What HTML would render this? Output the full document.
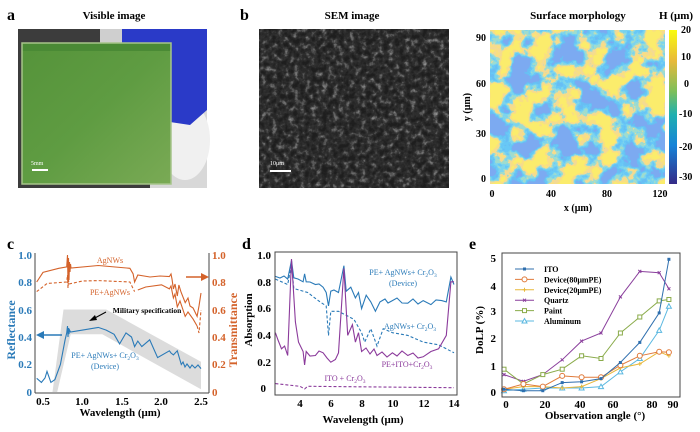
<!DOCTYPE html>
<html><head><meta charset="utf-8"><style>
html,body{margin:0;padding:0;background:#fff;}
svg{display:block;font-family:"Liberation Serif",serif;font-weight:bold;}
</style></head><body>
<svg width="700" height="432" viewBox="0 0 700 432" xmlns="http://www.w3.org/2000/svg">
<defs>
<filter id="semf" x="0" y="0" width="100%" height="100%">
<feTurbulence type="fractalNoise" baseFrequency="0.18" numOctaves="3" seed="4"/>
<feColorMatrix type="matrix" values="0 0 0 0 0  0 0 0 0 0  0 0 0 0 0  1.2 0 0 0 -0.35"/>
<feComponentTransfer><feFuncA type="table" tableValues="0 0.1 0.5 0.9"/></feComponentTransfer>
<feColorMatrix type="matrix" values="0 0 0 0 0.75 0 0 0 0 0.75 0 0 0 0 0.75 0 0 0 1 0"/>
</filter>
<filter id="mapf" x="0" y="0" width="100%" height="100%">
<feTurbulence type="fractalNoise" baseFrequency="0.045" numOctaves="4" seed="7"/>
<feColorMatrix type="matrix" values="3.5 0 0 0 -1.25 3.5 0 0 0 -1.25 3.5 0 0 0 -1.25 0 0 0 0 1"/>
<feComponentTransfer>
<feFuncR type="discrete" tableValues="0.2 0.14 0.14 0.2 0.35 0.9 0.94 0.97"/>
<feFuncG type="discrete" tableValues="0.4 0.52 0.58 0.66 0.72 0.7 0.74 0.84"/>
<feFuncB type="discrete" tableValues="0.88 0.9 0.92 0.85 0.62 0.3 0.22 0.15"/>
<feFuncA type="table" tableValues="1 1"/>
</feComponentTransfer>
</filter>
<linearGradient id="cb" x1="0" y1="0" x2="0" y2="1">
<stop offset="0" stop-color="#f9fb0e"/><stop offset="0.2" stop-color="#e8b93a"/>
<stop offset="0.4" stop-color="#7cbf5a"/><stop offset="0.55" stop-color="#1fb0b0"/>
<stop offset="0.75" stop-color="#1683d8"/><stop offset="1" stop-color="#352a87"/>
</linearGradient>
<linearGradient id="grn" x1="0" y1="0" x2="1" y2="1">
<stop offset="0" stop-color="#55933a"/><stop offset="0.5" stop-color="#5f9c42"/><stop offset="1" stop-color="#7aaa55"/>
</linearGradient>
<marker id="mIT" markerWidth="6" markerHeight="6" refX="3" refY="3" markerUnits="userSpaceOnUse"><rect x="1.5" y="1.5" width="3" height="3" fill="#2f6fae"/></marker>
<marker id="mD8" markerWidth="8" markerHeight="8" refX="4" refY="4" markerUnits="userSpaceOnUse"><circle cx="4" cy="4" r="2.5" fill="#fff" stroke="#e07a3a"/></marker>
<marker id="mD2" markerWidth="6" markerHeight="6" refX="3" refY="3" markerUnits="userSpaceOnUse"><path d="M1 3h4M3 1v4" stroke="#e8b83a"/></marker>
<marker id="mQ" markerWidth="6" markerHeight="6" refX="3" refY="3" markerUnits="userSpaceOnUse"><path d="M1.5 1.5l3 3M4.5 1.5l-3 3" stroke="#8a3f9c"/></marker>
<marker id="mP" markerWidth="8" markerHeight="8" refX="4" refY="4" markerUnits="userSpaceOnUse"><rect x="2" y="2" width="4" height="4" fill="#fff" stroke="#8aab4a"/></marker>
<marker id="mA" markerWidth="8" markerHeight="8" refX="4" refY="4" markerUnits="userSpaceOnUse"><path d="M4 1.5L6.5 6H1.5Z" fill="#fff" stroke="#5bb8e0"/></marker>
</defs>

<text x="7" y="20" font-size="16">a</text>
<text x="114" y="19" font-size="11" text-anchor="middle">Visible image</text>
<text x="240" y="20" font-size="16">b</text>
<text x="352" y="19" font-size="11" text-anchor="middle">SEM image</text>
<text x="578" y="19" font-size="11" text-anchor="middle">Surface morphology</text>
<text x="676" y="19" font-size="11" text-anchor="middle">H (μm)</text>

<rect x="18" y="29" width="189" height="159" fill="#3c3c3c"/>
<rect x="150" y="95" width="57" height="93" fill="#d8d8d8"/>
<ellipse cx="185" cy="140" rx="25" ry="40" fill="#f0f0f0"/>
<path d="M121 29 L207 29 L207 110 L190 125 L170 122 L165 90 L140 70 L121 55 Z" fill="#2a3ac8"/>
<rect x="100" y="29" width="22" height="16" fill="#cfcfcf"/>
<rect x="22" y="43" width="149" height="141" fill="url(#grn)"/>
<rect x="22" y="43" width="149" height="8" fill="#4a8a35"/>
<rect x="22" y="43" width="149" height="141" fill="none" stroke="#a6c48a" stroke-width="1.5"/>
<text x="31" y="165" font-size="6" fill="#fff" font-weight="normal">5mm</text>
<rect x="32" y="169" width="16" height="2" fill="#fff"/>

<rect x="259" y="29" width="190" height="159" fill="#1e1e1e"/>
<rect x="259" y="29" width="190" height="159" filter="url(#semf)"/>
<text x="270" y="165" font-size="6" fill="#fff" font-weight="normal">10μm</text>
<rect x="270" y="170" width="21" height="2" fill="#fff"/>

<rect x="490" y="30" width="175" height="154" filter="url(#mapf)"/>
<rect x="669" y="30" width="8" height="154" fill="url(#cb)"/>
<g font-size="10" text-anchor="end">
<text x="486" y="41">90</text><text x="486" y="87">60</text><text x="486" y="137">30</text><text x="486" y="182">0</text>
</g>
<g font-size="10" text-anchor="middle">
<text x="492" y="197">0</text><text x="551" y="197">40</text><text x="607" y="197">80</text><text x="660" y="197">120</text>
</g>
<text x="578" y="211" font-size="10" text-anchor="middle">x (μm)</text>
<text transform="translate(470,107) rotate(-90)" font-size="10" text-anchor="middle">y (μm)</text>
<g font-size="10">
<text x="681" y="33">20</text><text x="681" y="60">10</text><text x="684" y="87">0</text><text x="679" y="117">-10</text><text x="679" y="150">-20</text><text x="679" y="180">-30</text>
</g>

<text x="7" y="249" font-size="16">c</text>
<text x="242" y="249" font-size="16">d</text>
<text x="469" y="249" font-size="16">e</text>

<polygon points="52.5,392 63.5,309.5 106.2,309.5 201,361.8 201,389.3 102.3,334.3 70.7,334.3 57.2,392" fill="#dcdcdc"/>
<g fill="none" stroke-width="1.1">
<path stroke="#d4622a" d="M36.7 282 L43 272.4 L58.8 268.3 L66.7 266.9 L67.5 255 L68 283 L68.5 258 L69 280 L69.5 262 L70 272 L70.5 264 L71 268 L98.3 265.5 L129.9 268.3 L133.1 273.8 L134.6 282 L137.8 275 L150 277 L160 276 L169.4 276.5 L171 274 L172 279 L173.4 289 L175 284 L177.3 296 L178.9 285 L181 292 L185.2 302.6 L188 298 L190 306 L193.1 308 L195 312 L197.1 316.4 L199 306 L201 293"/>
<path stroke="#d4622a" stroke-dasharray="3,2" d="M36.7 291.6 L47 283.5 L66.7 282 L67.5 275 L68 288 L68.5 280 L69 284 L82.5 281 L98.3 280.6 L129.9 282 L134.6 291.6"/>
<path stroke="#d4622a" d="M137.8 290 L145.7 287 L161.5 284.8 L169.4 288.9 L171 286 L173.4 298 L175 294 L177.3 306.8 L180 301 L185.2 316.4 L188 312 L193.1 319.1 L197.1 326"/>
<path stroke="#d4622a" stroke-dasharray="3,2" d="M197.1 326 L199 333 L201 310"/>
<path stroke="#2a7ab8" d="M36.7 378.3 L41.4 382.4 L45 378 L47 371.4 L50.9 382.4 L54.9 379.6 L60.4 364.5 L65.1 339.8 L66.7 333 L67.5 326 L68 337 L68.5 328 L69 334 L69.5 330 L70.5 332 L82.5 330.1 L98.3 327.4 L106.2 330.1 L114.1 334.3 L119.6 343.9 L126 332.9 L131.5 337 L134.6 346.6 L137.8 341.1 L141.8 346.6 L149.7 339.8 L157.6 357.6 L169.4 350.8 L171 353 L173.4 354.9 L177.3 350.8 L181.3 364.5 L183 362 L185 367 L187 364 L190 368 L192 365 L195 368 L198 365 L201 368.6"/>
</g>
<line x1="35" y1="253" x2="35" y2="393" stroke="#444"/>
<line x1="35" y1="393" x2="209" y2="393" stroke="#444"/>
<line x1="209" y1="253" x2="209" y2="393" stroke="#444"/>
<g font-size="11" fill="#2a7ab8" text-anchor="end">
<text x="32" y="259">1.0</text><text x="32" y="286">0.8</text><text x="32" y="314">0.6</text><text x="32" y="341">0.4</text><text x="32" y="368">0.2</text><text x="32" y="396">0</text>
</g>
<g font-size="11" fill="#d4622a">
<text x="212" y="259">1.0</text><text x="212" y="286">0.8</text><text x="212" y="314">0.6</text><text x="212" y="341">0.4</text><text x="212" y="368">0.2</text><text x="212" y="396">0</text>
</g>
<g font-size="11" text-anchor="middle">
<text x="43" y="405">0.5</text><text x="82" y="405">1.0</text><text x="122" y="405">1.5</text><text x="161" y="405">2.0</text><text x="201" y="405">2.5</text>
</g>
<text x="120" y="416" font-size="11" text-anchor="middle">Wavelength (μm)</text>
<text transform="translate(15,330) rotate(-90)" font-size="12" fill="#2a7ab8" text-anchor="middle">Reflectance</text>
<text transform="translate(237,330) rotate(-90)" font-size="12" fill="#d4622a" text-anchor="middle">Transmittance</text>
<text x="110" y="263" font-size="8" fill="#d4622a" text-anchor="middle" font-weight="normal">AgNWs</text>
<text x="110" y="295" font-size="8" fill="#d4622a" text-anchor="middle" font-weight="normal">PE+AgNWs</text>
<text x="147" y="313" font-size="7.5" text-anchor="middle">Military specification</text>
<line x1="106" y1="312" x2="93" y2="319" stroke="#000"/><polygon points="89,321 95,315 97,320" fill="#000"/>
<text x="105" y="358" font-size="8" fill="#2a7ab8" text-anchor="middle" font-weight="normal">PE+ AgNWs+ Cr<tspan font-size="5.5" dy="2">2</tspan><tspan dy="-2">O</tspan><tspan font-size="5.5" dy="2">3</tspan></text>
<text x="105" y="369" font-size="8" fill="#2a7ab8" text-anchor="middle" font-weight="normal">(Device)</text>
<line x1="62" y1="335" x2="42" y2="335" stroke="#2a7ab8" stroke-width="1.5"/><polygon points="36,335 44,331 44,339" fill="#2a7ab8"/>
<line x1="186" y1="277" x2="203" y2="277" stroke="#d4622a" stroke-width="1.5"/><polygon points="209,277 201,273 201,281" fill="#d4622a"/>

<g fill="none" stroke-width="1.1">
<path stroke="#2a7ab8" d="M275.4 276.4 L280 278 L284 276 L287.7 279.1 L291.5 260.4 L293.8 277.8 L298 279 L303.1 281.8 L304.6 273.8 L306.2 281.8 L310 282 L315.4 284.5 L319 284 L323.1 287.2 L326.2 292.5 L328.5 305.9 L330.8 291.2 L334 290 L338.5 292.5 L343.9 265.7 L346.2 291.2 L350.8 287.2 L355.4 297.9 L358.5 292.5 L361.6 308.6 L366.2 295.2 L370.8 301.9 L375.4 311.3 L380 301.9 L385 299 L388 303 L392.4 300.6 L397 298 L402 303 L407.8 303.2 L413 299 L418 304 L423.2 300.6 L430.9 304.6 L436 300 L441.7 300.6 L446.3 301.9 L450.9 277 L454 284.5"/>
<path stroke="#2a7ab8" stroke-dasharray="3,2" d="M275.4 279.1 L287.7 284.5 L291.5 264.4 L293.8 288.5 L307.7 292.5 L320 301.9 L326.2 305.9 L328.5 335.4 L330.8 311.3 L338.5 311.3 L346.2 315.3 L353.9 319.3 L361.6 332.7 L364.7 342.1 L370.8 328.7 L377 346.1 L383.2 328.7 L392.4 332.7 L407.8 335.4 L423.2 342.1 L438.6 344.8 L446.3 348.8 L454 352.8"/>
<path stroke="#8b3a9b" d="M275.4 332.7 L278 340 L281.5 348.8 L284.6 346.1 L287.7 355.5 L291.5 259 L295.4 322 L298.5 342.1 L303.1 351.5 L304.6 364.9 L306.2 351.5 L310 356 L315.4 355.5 L319 351 L323.1 352.8 L327 358 L330.8 362.2 L335.4 359.5 L338.5 352.8 L343.9 268.4 L347.7 335.4 L352.4 324.7 L355.4 342.1 L358.5 332.7 L361.6 351.5 L366 348 L370 354 L374 349 L377 355.5 L382 352 L387 357 L392.4 352.8 L397 356 L402 351 L407.8 355.5 L413 353 L418 358 L423.2 356.8 L430.9 351.5 L438.6 348.8 L446.3 335.4 L450.9 281.8 L454 281.8"/>
<path stroke="#8b3a9b" stroke-dasharray="3,2" d="M275.4 383.6 L300 386.3 L304.6 389 L307.7 386.3 L454 387.7"/>
</g>
<rect x="275" y="252" width="182" height="143" fill="none" stroke="#444"/>
<g font-size="11" text-anchor="end">
<text x="271" y="259">1.0</text><text x="271" y="286">0.8</text><text x="271" y="312">0.6</text><text x="271" y="339">0.4</text><text x="271" y="366">0.2</text><text x="266" y="392">0</text>
</g>
<g font-size="11" text-anchor="middle">
<text x="300" y="407">4</text><text x="331" y="407">6</text><text x="362" y="407">8</text><text x="393" y="407">10</text><text x="424" y="407">12</text><text x="454" y="407">14</text>
</g>
<text x="363" y="423" font-size="11" text-anchor="middle">Wavelength (μm)</text>
<text transform="translate(252,320) rotate(-90)" font-size="11" text-anchor="middle">Absorption</text>
<text x="403" y="275" font-size="8" fill="#2a7ab8" text-anchor="middle" font-weight="normal">PE+ AgNWs+ Cr<tspan font-size="5.5" dy="2">2</tspan><tspan dy="-2">O</tspan><tspan font-size="5.5" dy="2">3</tspan></text>
<text x="403" y="286" font-size="8" fill="#2a7ab8" text-anchor="middle" font-weight="normal">(Device)</text>
<text x="410" y="329" font-size="8" fill="#2a7ab8" text-anchor="middle" font-weight="normal">AgNWs+ Cr<tspan font-size="5.5" dy="2">2</tspan><tspan dy="-2">O</tspan><tspan font-size="5.5" dy="2">3</tspan></text>
<text x="407" y="367" font-size="8" fill="#8b3a9b" text-anchor="middle" font-weight="normal">PE+ITO+Cr<tspan font-size="5.5" dy="2">2</tspan><tspan dy="-2">O</tspan><tspan font-size="5.5" dy="2">3</tspan></text>
<text x="345" y="381" font-size="8" fill="#8b3a9b" text-anchor="middle" font-weight="normal">ITO + Cr<tspan font-size="5.5" dy="2">2</tspan><tspan dy="-2">O</tspan><tspan font-size="5.5" dy="2">3</tspan></text>

<g fill="none" stroke-width="1">
<polyline stroke="#8a3f9c" marker-start="url(#mQ)" marker-mid="url(#mQ)" marker-end="url(#mQ)" points="504,374.6 523.4,381.3 542.8,374.6 562.2,359.8 581.6,341.1 601,333 620.4,296.9 639.8,271.4 659.2,272.7 668.9,288.8"/>
<polyline stroke="#8aab4a" marker-start="url(#mP)" marker-mid="url(#mP)" marker-end="url(#mP)" points="504,369.2 523.4,384 542.8,374.6 562.2,369.2 581.6,355.8 601,358.5 620.4,333 639.8,317 659.2,300.9 668.9,299.5"/>
<polyline stroke="#5bb8e0" marker-start="url(#mA)" marker-mid="url(#mA)" marker-end="url(#mA)" points="504,390.7 523.4,389.3 542.8,388 562.2,388 581.6,388 601,386.6 620.4,371.9 639.8,358.5 659.2,330.4 668.9,306.2"/>
<polyline stroke="#e8b83a" marker-start="url(#mD2)" marker-mid="url(#mD2)" marker-end="url(#mD2)" points="504,389.3 523.4,386.6 542.8,386.6 562.2,388 581.6,386.6 601,378.6 620.4,367.9 639.8,363.9 659.2,351.8 668.9,355.8"/>
<polyline stroke="#e07a3a" marker-start="url(#mD8)" marker-mid="url(#mD8)" marker-end="url(#mD8)" points="504,389.3 523.4,384 542.8,386.6 562.2,375.9 581.6,377.3 601,377.3 620.4,365.2 639.8,355.8 659.2,351.8 668.9,352.3"/>
<polyline stroke="#2f6fae" marker-start="url(#mIT)" marker-mid="url(#mIT)" marker-end="url(#mIT)" points="504,389.3 523.4,390.7 542.8,390.7 562.2,382.6 581.6,381.8 601,378.6 620.4,362.5 639.8,342.4 659.2,312.9 668.9,259.3"/>
<polyline stroke="#2f6fae" marker-mid="url(#mIT)" points="515,269 524.5,269 534,269"/>
<polyline stroke="#e07a3a" marker-mid="url(#mD8)" points="515,279.4 524.5,279.4 534,279.4"/>
<polyline stroke="#e8b83a" marker-mid="url(#mD2)" points="515,289.8 524.5,289.8 534,289.8"/>
<polyline stroke="#8a3f9c" marker-mid="url(#mQ)" points="515,300.2 524.5,300.2 534,300.2"/>
<polyline stroke="#8aab4a" marker-mid="url(#mP)" points="515,310.6 524.5,310.6 534,310.6"/>
<polyline stroke="#5bb8e0" marker-mid="url(#mA)" points="515,321 524.5,321 534,321"/>
</g>
<g font-size="8">
<text x="544" y="272">ITO</text><text x="544" y="282.4">Device(80μmPE)</text><text x="544" y="292.8">Device(20μmPE)</text>
<text x="544" y="303.2">Quartz</text><text x="544" y="313.6">Paint</text><text x="544" y="324">Aluminum</text>
</g>
<rect x="502" y="253" width="178" height="144" fill="none" stroke="#444"/>
<g font-size="11" text-anchor="end">
<text x="496" y="262">5</text><text x="496" y="290">4</text><text x="496" y="315">3</text><text x="496" y="342">2</text><text x="496" y="370">1</text><text x="496" y="396">0</text>
</g>
<g font-size="11" text-anchor="middle">
<text x="506" y="408">0</text><text x="545" y="408">20</text><text x="580" y="408">40</text><text x="613" y="408">60</text><text x="652" y="408">80</text><text x="673" y="408">90</text>
</g>
<text x="595" y="419" font-size="11" text-anchor="middle">Observation angle (°)</text>
<text transform="translate(483,330) rotate(-90)" font-size="11" text-anchor="middle">DoLP (%)</text>
</svg>
</body></html>
